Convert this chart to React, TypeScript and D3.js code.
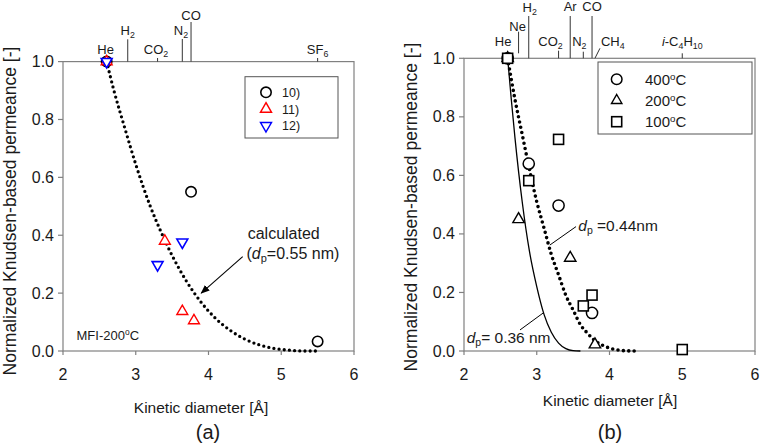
import React from 'react';
import * as d3 from 'd3';

const W = 763;
const H = 444;
const FONT = "'Liberation Sans', Arial, sans-serif";
const FRAME = '#808080';

const xTicks = [2, 3, 4, 5, 6];
const yTicks = [0, 0.2, 0.4, 0.6, 0.8, 1.0];

// ---- panel (a): MFI-200oC, literature data ----
const gasA = ['He', 'H2', 'CO2', 'N2', 'CO', 'SF6'];
const diamA = [2.6, 2.89, 3.3, 3.64, 3.76, 5.5];
const ref10 = [[2.6, 1.0], [3.76, 0.55], [5.5, 0.033]];
const ref11 = [[2.6, 1.0], [3.4, 0.38], [3.64, 0.137], [3.8, 0.105]];
const ref12 = [[2.6, 1.0], [3.3, 0.298], [3.64, 0.376]];
const refLabels = ['10)', '11)', '12)'];
// dotted curve (dp = 0.55 nm)
const calcA = [
  [2.6, 1.0], [2.7, 0.9], [2.85, 0.77], [3.0, 0.645], [3.2, 0.5], [3.35, 0.41],
  [3.5, 0.33], [3.7, 0.24], [3.9, 0.168], [4.1, 0.112], [4.3, 0.071], [4.5, 0.041],
  [4.7, 0.021], [4.9, 0.009], [5.1, 0.003], [5.3, 0.0], [5.5, 0.0],
];

// ---- panel (b): temperatures ----
const gasB = ['He', 'Ne', 'H2', 'CO2', 'Ar', 'N2', 'CO', 'CH4', 'i-C4H10'];
const diamB = [2.6, 2.75, 2.89, 3.3, 3.46, 3.64, 3.76, 3.8, 5.0];
const temps = [400, 200, 100];
const t400 = [[2.6, 1.0], [2.89, 0.64], [3.3, 0.497], [3.76, 0.13]];
const t200 = [[2.6, 1.0], [2.75, 0.45], [3.46, 0.318], [3.8, 0.022]];
const t100 = [[2.6, 1.0], [2.89, 0.582], [3.3, 0.723], [3.64, 0.154], [3.76, 0.191], [5.0, 0.005]];
// dp = 0.36 nm (solid) and dp = 0.44 nm (dotted)
const curve036 = [
  [2.6, 1.0], [2.65, 0.86], [2.7, 0.73], [2.8, 0.51], [2.9, 0.34], [3.0, 0.22],
  [3.1, 0.125], [3.2, 0.064], [3.3, 0.027], [3.4, 0.008], [3.5, 0.001], [3.6, 0.0],
];
const curve044 = [
  [2.6, 1.0], [2.7, 0.86], [2.8, 0.74], [2.9, 0.62], [3.0, 0.51], [3.1, 0.42],
  [3.2, 0.33], [3.3, 0.26], [3.4, 0.19], [3.5, 0.14], [3.6, 0.09], [3.7, 0.06],
  [3.8, 0.035], [3.9, 0.02], [4.0, 0.01], [4.1, 0.004], [4.2, 0.001], [4.35, 0.0],
];

// layout of the gas labels above each frame: [tick bottom, tick top, label centre y, label dx]
const gasLayoutA = [
  [null, null, -12.5, -1], [0, -22.3, -31.6, 0], [0, -3.6, -12.5, -1.6],
  [0, -22.6, -31.6, -1.4], [0, -39.6, -46.6, 0], [0, -3.6, -12, 0],
];
const gasLayoutB = [
  [null, null, -16.6, -4.5], [-5, -26.6, -31.6, -1], [0, -42.3, -51, 1],
  [0, -7.6, -16.6, -8], [0, -42.3, -52.3, 0], [0, -6.6, -16.6, -4],
  [0, -42.3, -52.3, 0], ['slant', 0, -16.6, 6], [0, -5, -16.6, 0],
];

const triUp = (r: number) => `M0,${-r}L${r * 0.866},${r * 0.5}L${-r * 0.866},${r * 0.5}Z`;
const triDown = (r: number) => `M0,${r}L${r * 0.866},${-r * 0.5}L${-r * 0.866},${-r * 0.5}Z`;

// chemical formula -> tspans with subscripts
function Formula({ name, size }: { name: string; size: number }) {
  const parts: React.ReactNode[] = [];
  let rest = name;
  let k = 0;
  let lowered = false;
  if (rest.startsWith('i-')) {
    parts.push(<tspan key={k++} fontStyle="italic">i</tspan>);
    rest = rest.slice(1);
  }
  const tokens = rest.match(/\d+|\D+/g) || [];
  tokens.forEach((tok) => {
    if (/\d/.test(tok)) {
      parts.push(<tspan key={k++} fontSize={size * 0.68} dy={3}>{tok}</tspan>);
      lowered = true;
    } else {
      parts.push(<tspan key={k++} dy={lowered ? -3 : undefined}>{tok}</tspan>);
      lowered = false;
    }
  });
  return <>{parts}</>;
}

function Degree({ t, size }: { t: number; size: number }) {
  return (
    <>
      <tspan>{t}</tspan>
      <tspan fontSize={size * 0.65} dy={-5}>o</tspan>
      <tspan dy={5}>C</tspan>
    </>
  );
}

function Frame({ x, y, left, right, top, bottom }: any) {
  return (
    <g fontFamily={FONT} fill="#1a1a1a">
      <rect x={left} y={top} width={right - left} height={bottom - top} fill="none" stroke={FRAME} strokeWidth={1.2} />
      {yTicks.map((t) => (
        <g key={t}>
          <line x1={left - 5} x2={left} y1={y(t)} y2={y(t)} stroke={FRAME} strokeWidth={1.2} />
          <text x={left - 9} y={y(t) + 5.5} fontSize={16} textAnchor="end">{t.toFixed(1)}</text>
        </g>
      ))}
      {xTicks.map((t) => (
        <g key={t}>
          <line x1={x(t)} x2={x(t)} y1={bottom} y2={bottom + 4} stroke={FRAME} strokeWidth={1.2} />
          <text x={x(t)} y={bottom + 29} fontSize={16} textAnchor="middle">{t}</text>
        </g>
      ))}
    </g>
  );
}

function GasLabels({ x, top, gases, diams, layout }: any) {
  return (
    <g fontFamily={FONT} fontSize={13} fill="#1a1a1a">
      {gases.map((g: string, i: number) => {
        const [tb, tt, ly, dx] = layout[i];
        const gx = x(diams[i]);
        let tick = null;
        let anchor = 'middle';
        if (tb === 'slant') {
          tick = <line x1={gx} y1={top} x2={gx + 5} y2={top - 10} stroke="#333" strokeWidth={1} />;
          anchor = 'start';
        } else if (tb !== null) {
          tick = <line x1={gx} y1={top + tb} x2={gx} y2={top + tt} stroke="#333" strokeWidth={1} />;
        }
        return (
          <g key={g}>
            {tick}
            <text x={gx + dx} y={top + ly + 4.6} textAnchor={anchor}>
              <Formula name={g} size={13} />
            </text>
          </g>
        );
      })}
    </g>
  );
}

export default function App() {
  // panel (a) scales
  const xa = d3.scaleLinear().domain([2, 6]).range([63, 354]);
  const ya = d3.scaleLinear().domain([0, 1]).range([351, 61.6]);
  // panel (b) scales
  const xb = d3.scaleLinear().domain([2, 6]).range([464, 755]);
  const yb = d3.scaleLinear().domain([0, 1]).range([351, 58.3]);

  const lineA = d3.line<number[]>().x((d) => xa(d[0])).y((d) => ya(d[1])).curve(d3.curveMonotoneX);
  const lineB = d3.line<number[]>().x((d) => xb(d[0])).y((d) => yb(d[1])).curve(d3.curveMonotoneX);

  const yLabel = 'Normalized Knudsen-based permeance [-]';

  return (
    <svg width={W} height={H} style={{ position: 'absolute', left: 0, top: 0, background: '#fff' }}>
      <defs>
        <marker id="arrow" viewBox="0 0 10 10" refX="9" refY="5" markerWidth="9" markerHeight="9" orient="auto-start-reverse" markerUnits="userSpaceOnUse">
          <path d="M0,1L10,5L0,9Z" fill="#000" />
        </marker>
      </defs>
      <rect width={W} height={H} fill="#fff" />

      {/* ---------------- panel (a) ---------------- */}
      <Frame x={xa} y={ya} left={63} right={354} top={61.6} bottom={351} />
      <GasLabels x={xa} top={61.6} gases={gasA} diams={diamA} layout={gasLayoutA} />
      <text transform="translate(15.5,211) rotate(-90)" textAnchor="middle" fontFamily={FONT} fontSize={17.5} fill="#1a1a1a">{yLabel}</text>
      <text x={201} y={413} textAnchor="middle" fontFamily={FONT} fontSize={15.5} fill="#1a1a1a">Kinetic diameter [Å]</text>
      <text x={208} y={439} textAnchor="middle" fontFamily={FONT} fontSize={20} fill="#1a1a1a">(a)</text>

      <path d={lineA(calcA) || ''} fill="none" stroke="#000" strokeWidth={3.3} strokeDasharray="0 5.2" strokeLinecap="round" />
      {ref10.map((d, i) => (
        <circle key={'c' + i} cx={xa(d[0])} cy={ya(d[1])} r={5.2} fill="#fff" stroke="#000" strokeWidth={1.6} />
      ))}
      {ref11.map((d, i) => (
        <path key={'u' + i} d={triUp(6.3)} transform={`translate(${xa(d[0])},${ya(d[1])})`} fill="#fff" stroke="#ff0000" strokeWidth={1.4} />
      ))}
      {ref12.map((d, i) => (
        <path key={'v' + i} d={triDown(6.3)} transform={`translate(${xa(d[0])},${ya(d[1])})`} fill="#fff" stroke="#0000ff" strokeWidth={1.6} />
      ))}
      <line x1={xa(4.47)} y1={ya(0.326)} x2={xa(3.9)} y2={ya(0.2)} stroke="#000" strokeWidth={1.1} markerEnd="url(#arrow)" />
      <g fontFamily={FONT} fontSize={16} fill="#1a1a1a">
        <text x={247.7} y={239}>calculated</text>
        <text x={246.5} y={258.5}>
          <tspan>(</tspan><tspan fontStyle="italic">d</tspan>
          <tspan fontSize={11} dy={3}>p</tspan><tspan dy={-3}>=0.55 nm)</tspan>
        </text>
      </g>
      <text x={76.5} y={339.5} fontFamily={FONT} fontSize={13} fill="#1a1a1a"><tspan>MFI-</tspan><Degree t={200} size={13} /></text>

      {/* legend (a) */}
      <rect x={245} y={76.7} width={93} height={61.3} fill="#fff" stroke="#555" strokeWidth={1} />
      {refLabels.map((lab, i) => {
        const cy = 92.3 + i * 16.7;
        const sym = i === 0
          ? <circle cx={266} cy={cy} r={5.2} fill="#fff" stroke="#000" strokeWidth={1.6} />
          : <path d={i === 1 ? triUp(6.3) : triDown(6.3)} transform={`translate(266,${cy})`} fill="#fff" stroke={i === 1 ? '#ff0000' : '#0000ff'} strokeWidth={1.5} />;
        return (
          <g key={lab}>
            {sym}
            <text x={282} y={cy + 4.5} fontFamily={FONT} fontSize={12.5} fill="#1a1a1a">{lab}</text>
          </g>
        );
      })}

      {/* ---------------- panel (b) ---------------- */}
      <Frame x={xb} y={yb} left={464} right={755} top={58.3} bottom={351} />
      <GasLabels x={xb} top={58.3} gases={gasB} diams={diamB} layout={gasLayoutB} />
      <text transform="translate(416.5,207) rotate(-90)" textAnchor="middle" fontFamily={FONT} fontSize={17.5} fill="#1a1a1a">{yLabel}</text>
      <text x={610} y={406} textAnchor="middle" fontFamily={FONT} fontSize={15.5} fill="#1a1a1a">Kinetic diameter [Å]</text>
      <text x={610} y={439} textAnchor="middle" fontFamily={FONT} fontSize={20} fill="#1a1a1a">(b)</text>

      <path d={lineB(curve036) || ''} fill="none" stroke="#000" strokeWidth={1.3} />
      <path d={lineB(curve044) || ''} fill="none" stroke="#000" strokeWidth={3.6} strokeDasharray="0 5.4" strokeLinecap="round" />

      {t400.map((d, i) => (
        <circle key={'o' + i} cx={xb(d[0])} cy={yb(d[1])} r={5.6} fill="#fff" stroke="#000" strokeWidth={1.5} />
      ))}
      {t200.map((d, i) => (
        <path key={'t' + i} d={triUp(6.6)} transform={`translate(${xb(d[0])},${yb(d[1])})`} fill="#fff" stroke="#000" strokeWidth={1.4} />
      ))}
      {t100.map((d, i) => (
        <rect key={'s' + i} x={xb(d[0]) - 5} y={yb(d[1]) - 5} width={10} height={10} fill="#fff" stroke="#000" strokeWidth={1.6} />
      ))}

      <line x1={xb(3.18)} y1={yb(0.362)} x2={xb(3.54)} y2={yb(0.425)} stroke="#000" strokeWidth={1} />
      <line x1={xb(2.77)} y1={yb(0.072)} x2={xb(3.1)} y2={yb(0.132)} stroke="#000" strokeWidth={1} />
      <g fontFamily={FONT} fontSize={15.5} fill="#1a1a1a">
        <text x={578.3} y={230.5}>
          <tspan fontStyle="italic">d</tspan><tspan fontSize={10.5} dy={3}>p</tspan><tspan dy={-3}> =0.44nm</tspan>
        </text>
        <text x={466.7} y={342.5}>
          <tspan fontStyle="italic">d</tspan><tspan fontSize={10.5} dy={3}>p</tspan><tspan dy={-3}>= 0.36 nm</tspan>
        </text>
      </g>

      {/* legend (b) */}
      <rect x={598} y={62} width={154} height={72} fill="#fff" stroke="#555" strokeWidth={1} />
      {temps.map((t, i) => {
        const cy = 79.3 + i * 21.2;
        const sym = i === 0
          ? <circle cx={616.7} cy={cy} r={5.3} fill="#fff" stroke="#000" strokeWidth={1.5} />
          : i === 1
            ? <path d={triUp(6)} transform={`translate(616.7,${cy})`} fill="#fff" stroke="#000" strokeWidth={1.4} />
            : <rect x={611.7} y={cy - 5} width={10} height={10} fill="#fff" stroke="#000" strokeWidth={1.6} />;
        return (
          <g key={t}>
            {sym}
            <text x={645} y={cy + 5.3} fontFamily={FONT} fontSize={15} fill="#1a1a1a"><Degree t={t} size={15} /></text>
          </g>
        );
      })}
    </svg>
  );
}
